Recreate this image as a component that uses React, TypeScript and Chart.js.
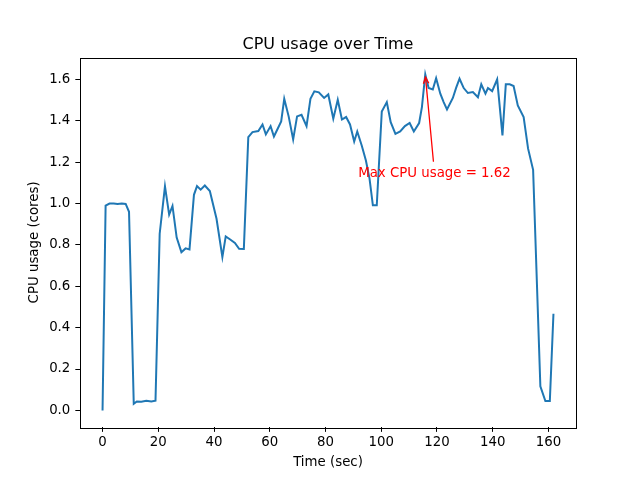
import React, { useEffect, useRef } from "react";
import { Chart, registerables } from "chart.js";

Chart.register(...registerables);

const times: number[] = [
  0, 1.1, 2.5, 4.0, 5.4, 6.9, 8.3, 9.5, 11.2, 12.3, 13.9, 15.7, 17.5, 19.0,
  20.5, 22.4, 23.9, 25.1, 26.6, 28.3, 29.8, 31.2, 32.8, 33.9, 35.2, 36.7, 38.5,
  40.9, 43.0, 44.2, 45.8, 47.5, 49.0, 50.7, 52.3, 53.8, 55.9, 57.4, 58.6, 60.3,
  61.5, 62.8, 64.1, 65.2, 66.8, 68.4, 69.8, 71.4, 73.2, 74.6, 76.0, 77.6, 79.5,
  81.0, 82.8, 84.4, 85.9, 87.4, 88.8, 90.3, 91.4, 93.0, 94.5, 95.8, 97.0, 98.4,
  100.2, 102.0, 103.4, 105.1, 106.8, 108.5, 110.2, 111.7, 113.6, 114.6, 115.8,
  117.0, 118.5, 119.7, 121.2, 122.4, 123.6, 125.7, 126.9, 128.1, 129.6, 131.1,
  132.9, 134.7, 135.9, 137.4, 138.3, 139.8, 141.6, 143.5, 144.7, 146.1, 147.5,
  149.0, 151.1, 152.7, 154.5, 157.1, 158.9, 160.5, 161.8,
];

const cpuUsage: number[] = [
  0.0, 0.99, 1.0, 1.0, 0.998, 1.0, 0.998, 0.96, 0.032, 0.043, 0.042, 0.047,
  0.043, 0.047, 0.854, 1.083, 0.946, 0.988, 0.835, 0.765, 0.783, 0.778, 1.042,
  1.084, 1.067, 1.087, 1.06, 0.926, 0.741, 0.841, 0.826, 0.809, 0.781, 0.78,
  1.321, 1.345, 1.35, 1.382, 1.334, 1.374, 1.324, 1.36, 1.397, 1.506, 1.42,
  1.31, 1.421, 1.429, 1.374, 1.506, 1.542, 1.537, 1.51, 1.527, 1.41, 1.501,
  1.406, 1.418, 1.382, 1.3, 1.348, 1.28, 1.208, 1.12, 0.991, 0.991, 1.445,
  1.49, 1.393, 1.337, 1.348, 1.374, 1.389, 1.348, 1.389, 1.466, 1.624, 1.558,
  1.551, 1.606, 1.531, 1.49, 1.455, 1.51, 1.56, 1.603, 1.558, 1.534, 1.539,
  1.514, 1.576, 1.531, 1.558, 1.543, 1.6, 1.329, 1.576, 1.576, 1.568, 1.474,
  1.418, 1.265, 1.163, 0.116, 0.045, 0.045, 0.467,
];

const xTicks: number[] = [0, 20, 40, 60, 80, 100, 120, 140, 160];
const yTicks: number[] = [0.0, 0.2, 0.4, 0.6, 0.8, 1.0, 1.2, 1.4, 1.6];

const titleText = "CPU usage over Time";
const xLabel = "Time (sec)";
const yLabel = "CPU usage (cores)";
const annotationOffset: number[] = [3.3, -0.48]; // text position relative to max point (data units)

const FONT = "'DejaVu Sans', sans-serif";

export default function App() {
  const canvasRef = useRef<HTMLCanvasElement | null>(null);

  useEffect(() => {
    const canvas = canvasRef.current;
    if (!canvas) return;

    let maxIdx = 0;
    for (let i = 1; i < cpuUsage.length; i++) if (cpuUsage[i] > cpuUsage[maxIdx]) maxIdx = i;
    const maxT = times[maxIdx];
    const maxV = cpuUsage[maxIdx];

    const tMin = Math.min(...times);
    const tMax = Math.max(...times);
    const vMin = Math.min(...cpuUsage);
    const vMax = Math.max(...cpuUsage);
    const tPad = (tMax - tMin) * 0.05;
    const vPad = (vMax - vMin) * 0.05;

    const decorPlugin = {
      id: "decor",
      afterDraw(chart: any) {
        const ctx = chart.ctx;
        const a = chart.chartArea;
        const xs = chart.scales.x;
        const ys = chart.scales.y;
        ctx.save();
        // box
        ctx.strokeStyle = "#000";
        ctx.lineWidth = 1;
        ctx.strokeRect(Math.round(a.left) + 0.5, Math.round(a.top) + 0.5, Math.round(a.right - a.left), Math.round(a.bottom - a.top));
        // title
        ctx.fillStyle = "#000";
        ctx.font = `16px ${FONT}`;
        ctx.textAlign = "center";
        ctx.textBaseline = "alphabetic";
        ctx.fillText(titleText, (a.left + a.right) / 2, a.top - 8.5);
        // x label
        ctx.font = `13.33px ${FONT}`;
        ctx.textBaseline = "top";
        ctx.fillText(xLabel, (a.left + a.right) / 2, 456);
        // y label
        ctx.save();
        ctx.translate(35, (a.top + a.bottom) / 2);
        ctx.rotate(-Math.PI / 2);
        ctx.textBaseline = "middle";
        ctx.fillText(yLabel, 0, 0);
        ctx.restore();

        // annotation
        const px = xs.getPixelForValue(maxT);
        const py = ys.getPixelForValue(maxV);
        const tx = xs.getPixelForValue(maxT + annotationOffset[0]);
        const ty = ys.getPixelForValue(maxV + annotationOffset[1]);
        ctx.fillStyle = "#ff0000";
        ctx.strokeStyle = "#ff0000";
        ctx.font = `13.33px ${FONT}`;
        ctx.textAlign = "center";
        ctx.textBaseline = "middle";
        ctx.fillText(`Max CPU usage = ${maxV.toFixed(2)}`, tx, ty);
        const sx = tx - 1;
        const sy = ty - 12;
        const dx = px - sx;
        const dy = py - sy;
        const len = Math.hypot(dx, dy);
        const ux = dx / len;
        const uy = dy / len;
        const ex = px - ux * 2.7;
        const ey = py - uy * 2.7;
        ctx.lineWidth = 1.3;
        ctx.beginPath();
        ctx.moveTo(sx, sy);
        ctx.lineTo(ex, ey);
        ctx.stroke();
        const hl = 7;
        const ang = Math.atan2(uy, ux);
        const spread = 0.4;
        ctx.beginPath();
        ctx.moveTo(ex - hl * Math.cos(ang - spread), ey - hl * Math.sin(ang - spread));
        ctx.lineTo(ex, ey);
        ctx.lineTo(ex - hl * Math.cos(ang + spread), ey - hl * Math.sin(ang + spread));
        ctx.stroke();
        ctx.restore();
      },
    };

    const chart = new Chart(canvas, {
      type: "line",
      data: {
        datasets: [
          {
            data: times.map((t, i) => ({ x: t, y: cpuUsage[i] })),
            borderColor: "#1f77b4",
            borderWidth: 2,
            pointRadius: 0,
            tension: 0,
            fill: false,
          },
        ],
      },
      options: {
        animation: false,
        responsive: false,
        devicePixelRatio: 1,
        layout: { padding: { left: 0, top: 57.6, right: 64, bottom: 0 } },
        plugins: {
          legend: { display: false },
          tooltip: { enabled: false },
          title: { display: false },
        },
        scales: {
          x: {
            type: "linear",
            min: tMin - tPad,
            max: tMax + tPad,
            afterFit: (s: any) => {
              s.height = 480 - 427.2;
            },
            afterBuildTicks: (s: any) => {
              s.ticks = xTicks.map((v) => ({ value: v }));
            },
            ticks: {
              color: "#000",
              font: { family: FONT, size: 13.33 },
              padding: 3,
              maxRotation: 0,
              autoSkip: false,
              callback: (v: any) => String(v),
            },
            grid: {
              drawOnChartArea: false,
              drawTicks: true,
              tickLength: 4.67,
              color: "#000",
              lineWidth: 1,
            },
            border: { display: false },
          },
          y: {
            type: "linear",
            min: vMin - vPad,
            max: vMax + vPad,
            afterFit: (s: any) => {
              s.width = 80;
            },
            afterBuildTicks: (s: any) => {
              s.ticks = yTicks.map((v) => ({ value: v }));
            },
            ticks: {
              color: "#000",
              font: { family: FONT, size: 13.33 },
              padding: 5,
              autoSkip: false,
              callback: (v: any) => Number(v).toFixed(1),
            },
            grid: {
              drawOnChartArea: false,
              drawTicks: true,
              tickLength: 4.67,
              color: "#000",
              lineWidth: 1,
            },
            border: { display: false },
          },
        },
      },
      plugins: [decorPlugin],
    });

    return () => chart.destroy();
  }, []);

  return (
    <div style={{ position: "fixed", left: 0, top: 0, width: 640, height: 480, background: "#fff" }}>
      <canvas ref={canvasRef} width={640} height={480} style={{ width: 640, height: 480 }} />
    </div>
  );
}
